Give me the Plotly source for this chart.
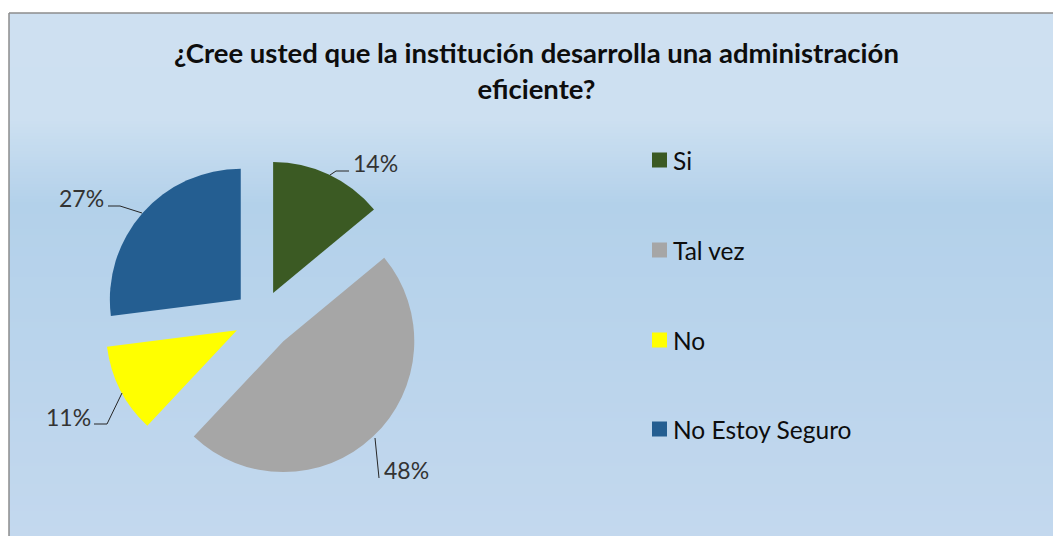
import plotly.graph_objects as go

# Survey answers
categories = ["Si", "Tal vez", "No", "No Estoy Seguro"]
values = [14, 48, 11, 27]
colors = ["#3b5a23", "#a6a6a6", "#ffff00", "#245e91"]
pulls = [0.21, 0.245, 0.21, 0.21]
title_text = "¿Cree usted que la institución desarrolla una administración<br>eficiente?"

W, H = 1053, 536
FONT = "Lato"


def fx(px):
    return px / W


def fy(py):
    return 1 - py / H


def hexmix(c1, c2, t):
    a = [int(c1[i:i + 2], 16) for i in (1, 3, 5)]
    b = [int(c2[i:i + 2], 16) for i in (1, 3, 5)]
    return "#" + "".join(f"{round(a[k] + (b[k] - a[k]) * t):02x}" for k in range(3))


shapes = []

# chart area background: soft vertical gradient built from thin bands
stops = [(13, "#cee0f1"), (118, "#cde0f1"), (205, "#b3d1ea"), (536, "#c3d8ee")]
top, left = 13, 9
y = top
step = 3
while y < H:
    yc = y + step / 2
    for (y0, c0), (y1, c1) in zip(stops[:-1], stops[1:]):
        if y0 <= yc <= y1:
            col = hexmix(c0, c1, (yc - y0) / (y1 - y0))
            break
    else:
        col = stops[-1][1]
    shapes.append(dict(type="rect", xref="paper", yref="paper", x0=fx(left), x1=1.0,
                       y0=fy(min(y + step, H)), y1=fy(y), fillcolor=col,
                       line=dict(width=0), layer="below"))
    y += step

# chart area border (top and left edges)
shapes.append(dict(type="line", xref="paper", yref="paper", x0=fx(left), x1=1.0,
                   y0=fy(top), y1=fy(top), line=dict(color="#8c8c8c", width=1.5)))
shapes.append(dict(type="line", xref="paper", yref="paper", x0=fx(left), x1=fx(left),
                   y0=fy(top), y1=0, line=dict(color="#8c8c8c", width=1.5)))

# pie placement
cx, cy, half = 261.4, 317.8, 163
fig = go.Figure(go.Pie(
    labels=categories,
    values=values,
    marker=dict(colors=colors, line=dict(width=0)),
    pull=pulls,
    sort=False,
    direction="clockwise",
    rotation=0,
    textinfo="none",
    hoverinfo="label+percent",
    showlegend=False,
    domain=dict(x=[fx(cx - half), fx(cx + half)], y=[fy(cy + half), fy(cy - half)]),
))

# data labels with leader lines
label_pos = [(375, 163), (406, 470), (68, 417), (81, 198)]
leaders = [
    [(330, 175), (336, 171), (349, 171)],
    [(375, 438), (379, 478)],
    [(122, 393), (107, 424), (94, 424)],
    [(142, 213), (120, 206), (108, 206)],
]
annotations = []
for v, (lx, ly), pts in zip(values, label_pos, leaders):
    annotations.append(dict(text=f"{v}%", x=fx(lx), y=fy(ly), xref="paper", yref="paper",
                            showarrow=False, xanchor="center", yanchor="middle",
                            font=dict(family=FONT, size=23, color="#333333")))
    path = "M " + " L ".join(f"{fx(px)},{fy(py)}" for px, py in pts)
    shapes.append(dict(type="path", xref="paper", yref="paper", path=path,
                       line=dict(color="#262626", width=1)))

# legend: swatches and names
leg_y = [160, 250, 340, 429]
for name, col, ly in zip(categories, colors, leg_y):
    shapes.append(dict(type="rect", xref="paper", yref="paper",
                       x0=fx(652), x1=fx(667), y0=fy(ly + 7.5), y1=fy(ly - 7.5),
                       fillcolor=col, line=dict(width=0)))
    annotations.append(dict(text=name, x=fx(671), y=fy(ly), xref="paper", yref="paper",
                            showarrow=False, xanchor="left", yanchor="middle",
                            font=dict(family=FONT, size=24.5, color="#0d0d0d")))

# title
annotations.append(dict(text=title_text, x=fx(536), y=fy(70), xref="paper", yref="paper",
                        showarrow=False, xanchor="center", yanchor="middle",
                        font=dict(family=FONT, size=27.5, color="#0d0d0d", weight="bold"),
                        align="center"))

fig.update_layout(
    width=W, height=H,
    margin=dict(l=0, r=0, t=0, b=0),
    paper_bgcolor="white",
    plot_bgcolor="rgba(0,0,0,0)",
    shapes=shapes,
    annotations=annotations,
)

fig.write_html("out.html")
